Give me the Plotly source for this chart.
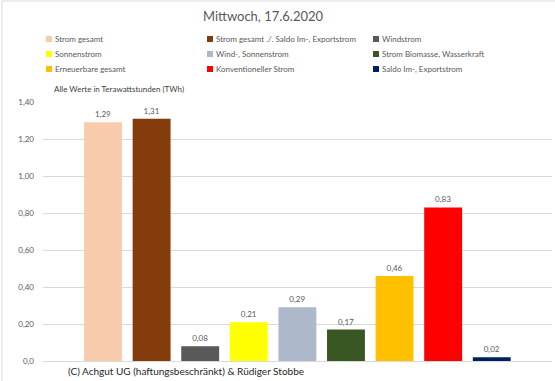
import plotly.graph_objects as go

title_text = "Mittwoch, 17.6.2020"
subtitle_text = "Alle Werte in Terawattstunden (TWh)"
footer_text = "(C) Achgut UG (haftungsbeschränkt) &amp; Rüdiger Stobbe"

series_names = [
    "Strom gesamt",
    "Strom gesamt ./. Saldo Im-, Exportstrom",
    "Windstrom",
    "Sonnenstrom",
    "Wind-, Sonnenstrom",
    "Strom Biomasse, Wasserkraft",
    "Erneuerbare gesamt",
    "Konventioneller Strom",
    "Saldo Im-, Exportstrom",
]
values = [1.29, 1.31, 0.08, 0.21, 0.29, 0.17, 0.46, 0.83, 0.02]
colors = ["#F8CBAD", "#843C0C", "#595959", "#FFFF00", "#ADB9CA",
          "#385723", "#FFC000", "#FF0000", "#002060"]

tick_vals = [0, 0.2, 0.4, 0.6, 0.8, 1.0, 1.2, 1.4]
tick_text = ["0,0", "0,20", "0,40", "0,60", "0,80", "1,00", "1,20", "1,40"]

FONT = "Lato"
W, H = 555, 381

fig = go.Figure()
for i, (name, v, c) in enumerate(zip(series_names, values, colors)):
    fig.add_trace(go.Bar(
        x=[i], y=[v], name=name, marker=dict(color=c, line=dict(width=0)),
        width=0.78, text=[v], texttemplate="%{y:.2f}", textposition="outside",
        textfont=dict(size=8, color="#595959", family=FONT),
        cliponaxis=False, showlegend=False, hoverinfo="skip",
    ))

# legend (3 columns x 3 rows), drawn manually in pixel-based paper coords
col_x = [46, 207, 373]
row_y = [39, 54, 69]
shapes = []
annotations = []
for i, (name, c) in enumerate(zip(series_names, colors)):
    cx = col_x[i % 3]
    ry = row_y[i // 3]
    shapes.append(dict(type="rect", xref="paper", yref="paper",
                       x0=(cx - 43) / 509, x1=(cx + 6 - 43) / 509,
                       y0=(361 - ry - 3) / 259, y1=(361 - ry + 3) / 259,
                       fillcolor=c, line=dict(width=0), layer="above"))
    annotations.append(dict(text=name, xref="paper", yref="paper",
                            x=(cx + 7 - 43) / 509, y=(361 - ry) / 259,
                            xanchor="left", yanchor="middle", showarrow=False,
                            font=dict(size=8, color="#595959", family=FONT)))

annotations.append(dict(text=subtitle_text, xref="paper", yref="paper",
                        x=(52 - 43) / 509, y=(361 - 89) / 259, xanchor="left",
                        yanchor="middle", showarrow=False,
                        font=dict(size=8, color="#404040", family=FONT)))
annotations.append(dict(text=footer_text, xref="paper", yref="paper",
                        x=(186 - 43) / 509, y=(361 - 371) / 259, xanchor="center",
                        yanchor="middle", showarrow=False,
                        font=dict(size=10, color="#262626", family=FONT)))

# sheet border lines
shapes.append(dict(type="line", xref="paper", yref="paper",
                   x0=(2 - 43) / 509, x1=(2 - 43) / 509, y0=-20 / 259, y1=(361 - 1) / 259,
                   line=dict(color="#D9D9D9", width=1)))
shapes.append(dict(type="line", xref="paper", yref="paper",
                   x0=(2 - 43) / 509, x1=(555 - 43) / 509, y0=(361 - 1) / 259, y1=(361 - 1) / 259,
                   line=dict(color="#D9D9D9", width=1)))

fig.update_layout(
    width=W, height=H,
    margin=dict(l=43, r=3, t=102, b=20, pad=0, autoexpand=False),
    paper_bgcolor="white", plot_bgcolor="white",
    separators=",.",
    barmode="overlay",
    hovermode=False,
    title=dict(text=title_text, x=263 / W, xanchor="center", xref="container",
               y=1 - 16 / H, yanchor="middle", yref="container",
               font=dict(size=13, color="#595959", family=FONT)),
    xaxis=dict(range=[-1.235, 9.24], showticklabels=False, showgrid=False,
               zeroline=False, showline=False, fixedrange=True),
    yaxis=dict(range=[0, 1.4], tickvals=tick_vals, ticktext=tick_text,
               showgrid=True, gridcolor="#D9D9D9", gridwidth=1,
               zeroline=True, zerolinecolor="#D9D9D9", zerolinewidth=1,
               showline=False, ticks="", ticklabelstandoff=8, fixedrange=True,
               tickfont=dict(size=8, color="#595959", family=FONT)),
    shapes=shapes,
    annotations=annotations,
    showlegend=False,
)

fig.write_html("out.html", config={"displayModeBar": False, "staticPlot": True},
               post_script="document.body.style.margin='0';document.body.style.overflow='hidden';")
